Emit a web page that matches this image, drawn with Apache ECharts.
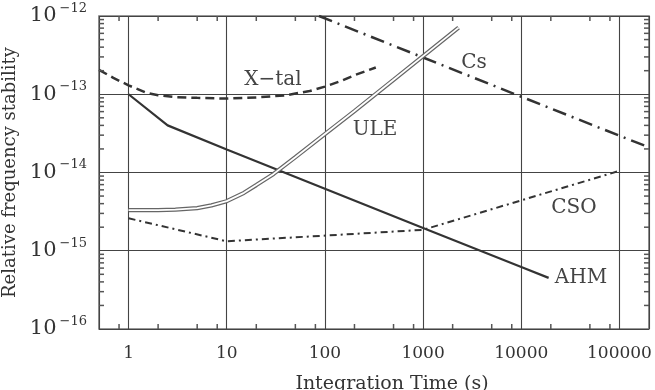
<!DOCTYPE html>
<html>
<head>
<meta charset="utf-8">
<script src="https://cdn.jsdelivr.net/npm/echarts@6/dist/echarts.min.js"></script>
<style>
  html, body { margin: 0; padding: 0; background: #fff; }
  #chart { width: 655px; height: 390px; }
</style>
</head>
<body>
<div id="chart"></div>
<script>
var FONT = "'DejaVu Serif', 'Liberation Serif', serif"

var X_MIN = 0.5, X_MAX = 200000
var Y_MIN = 1e-16, Y_MAX = 1e-12

// integration time (s) -> Allan deviation
var ahm = [[1, 1.0e-13], [2.5, 4.0e-14], [10, 1.97e-14], [100, 6.2e-15], [1000, 1.95e-15], [10000, 6.2e-16], [19000, 4.5e-16]]
var ule = [[1, 3.3e-15], [2, 3.3e-15], [3, 3.35e-15], [5, 3.5e-15], [7, 3.8e-15], [10, 4.3e-15], [15, 5.5e-15],
           [20, 6.9e-15], [30, 9.6e-15], [50, 1.57e-14], [100, 3.1e-14], [200, 6.1e-14], [500, 1.53e-13],
           [1000, 3.07e-13], [2300, 7.1e-13]]
var xtal = [[0.5, 2.05e-13], [0.7, 1.62e-13], [1, 1.3e-13], [1.5, 1.05e-13], [2, 9.7e-14], [3, 9.2e-14], [5, 9.0e-14],
            [10, 8.8e-14], [20, 9.1e-14], [40, 9.7e-14], [70, 1.1e-13], [100, 1.25e-13], [150, 1.5e-13],
            [200, 1.75e-13], [330, 2.2e-13]]
var cs = [[87, 1.0e-12], [1000, 2.95e-13], [10000, 9.3e-14], [100000, 2.95e-14], [200000, 2.1e-14]]
var cso = [[1, 2.6e-15], [10, 1.32e-15], [1000, 1.85e-15], [100000, 1.05e-14]]

var xMinorTicks = [0.8, 2, 5, 8, 20, 50, 80, 200, 500, 800, 2000, 5000, 8000, 20000, 50000, 80000]
var yMinorTicks = [2e-16, 3e-16, 4e-16, 5e-16, 6e-16, 7e-16, 8e-16, 9e-16,
                   2e-15, 3e-15, 4e-15, 5e-15, 6e-15, 7e-15, 8e-15, 9e-15,
                   2e-14, 3e-14, 4e-14, 5e-14, 6e-14, 7e-14, 8e-14, 9e-14,
                   2e-13, 3e-13, 4e-13, 5e-13, 6e-13, 7e-13, 8e-13, 9e-13]

var curveLabels = [
    {text: 'X\u2212tal', x: 273, y: 80},
    {text: 'ULE', x: 375, y: 130},
    {text: 'Cs', x: 474, y: 63},
    {text: 'CSO', x: 574, y: 208},
    {text: 'AHM', x: 581, y: 278}
]

var isPow10 = function (v) {
    var e = Math.log10(v)
    return Math.abs(e - Math.round(e)) < 1e-6
}

var xAxis = {
    type: 'log',
    logBase: 10,
    position: 'bottom',
    min: X_MIN,
    max: X_MAX,
    axisLine: {show: false},
    axisTick: {show: false},
    splitLine: {show: true, lineStyle: {color: '#444', width: 1.1}},
    axisLabel: {
        showMinLabel: false,
        showMaxLabel: false,
        margin: 16,
        color: '#333',
        fontFamily: FONT,
        fontSize: 17,
        formatter: function (v) { return isPow10(v) ? String(Math.round(v)) : '' }
    },
    name: 'Integration Time (s)',
    nameLocation: 'middle',
    nameGap: 46,
    nameTextStyle: {fontFamily: FONT, fontSize: 19, color: '#333', padding: [0, 0, 0, 36]}
}

var yAxis = {
    type: 'log',
    logBase: 10,
    position: 'left',
    min: Y_MIN,
    max: Y_MAX,
    axisLine: {show: false},
    axisTick: {show: false},
    splitLine: {show: true, lineStyle: {color: '#444', width: 1.1}},
    axisLabel: {
        margin: 12,
        formatter: function (v) {
            if (!isPow10(v)) return ''
            return '{b|10}{e|\u2212' + Math.abs(Math.round(Math.log10(v))) + '}'
        },
        rich: {
            b: {fontFamily: FONT, fontSize: 21, color: '#333', lineHeight: 28, verticalAlign: 'middle'},
            e: {fontFamily: FONT, fontSize: 13, color: '#333', lineHeight: 14, verticalAlign: 'top', padding: [0, 0, 14, 3]}
        }
    },
    name: 'Relative frequency stability',
    nameLocation: 'middle',
    nameGap: 79,
    nameTextStyle: {fontFamily: FONT, fontSize: 18, color: '#333'}
}

var lineSeries = function (data, style, z) {
    return {
        type: 'line',
        data: data,
        showSymbol: false,
        symbol: 'none',
        silent: true,
        z: z || 2,
        lineStyle: style
    }
}

// small inward ticks on the four sides of the box
var tickSeries = function (data, size, offset) {
    return {
        type: 'scatter',
        data: data,
        symbol: 'rect',
        symbolSize: size,
        symbolOffset: offset,
        clip: false,
        silent: true,
        z: 5,
        itemStyle: {color: '#555', opacity: 1}
    }
}

var option = {
    backgroundColor: '#fff',
    animation: false,
    grid: {left: 99, right: 6, top: 16, bottom: 61, containLabel: false, outerBoundsMode: 'none',
           show: true, borderColor: '#777', borderWidth: 1.6, backgroundColor: 'transparent'},
    xAxis: xAxis,
    yAxis: yAxis,
    series: [
        tickSeries(xMinorTicks.map(function (v) { return [v, Y_MIN] }), [1.5, 5], [0, -2.5]),
        tickSeries(xMinorTicks.map(function (v) { return [v, Y_MAX] }), [1.5, 5], [0, 2.5]),
        tickSeries(yMinorTicks.map(function (v) { return [X_MIN, v] }), [5, 1.5], [2.5, 0]),
        tickSeries(yMinorTicks.map(function (v) { return [X_MAX, v] }), [5, 1.5], [-2.5, 0]),
        lineSeries(xtal, {color: '#333', width: 2.5, type: [9, 5]}),
        lineSeries(cs, {color: '#333', width: 2.5, type: [14, 6, 2, 6]}),
        lineSeries(cso, {color: '#333', width: 2, type: [7, 4, 2, 4]}),
        lineSeries(ahm, {color: '#333', width: 2.2}),
        lineSeries(ule, {color: '#666', width: 4.2}, 3),
        lineSeries(ule, {color: '#fff', width: 1.8}, 4)
    ],
    graphic: curveLabels.map(function (l) {
        return {
            type: 'text',
            x: l.x,
            y: l.y,
            z: 10,
            style: {
                text: l.text,
                fontFamily: FONT,
                fontSize: 20,
                fill: '#444',
                align: 'center',
                verticalAlign: 'middle'
            }
        }
    })
}

echarts.init(document.getElementById('chart'), null, {renderer: 'canvas'}).setOption(option)
</script>
</body>
</html>
